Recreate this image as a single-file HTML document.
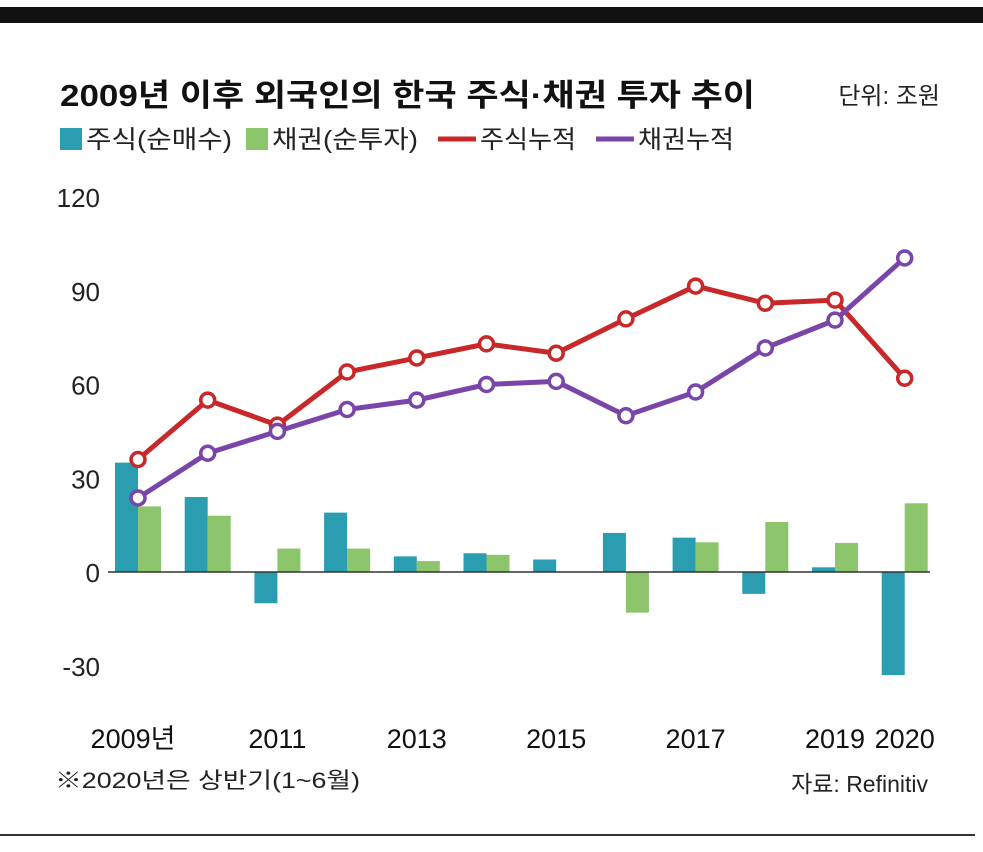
<!DOCTYPE html>
<html><head><meta charset="utf-8"><style>
body{margin:0;background:#fff;width:983px;height:847px;overflow:hidden;font-family:"Liberation Sans","Noto Sans CJK KR",sans-serif}
svg text{font-family:"Liberation Sans","Noto Sans CJK KR",sans-serif}
</style></head><body>
<svg width="983" height="847">
<rect x="0" y="7" width="983" height="16" fill="#111"/>
<line x1="0" y1="835" x2="975" y2="835" stroke="#333" stroke-width="2"/>
<text x="60" y="106" font-size="31" font-weight="bold" fill="#111" textLength="695" lengthAdjust="spacingAndGlyphs">2009년 이후 외국인의 한국 주식·채권 투자 추이</text>
<text x="940" y="104" font-size="24" text-anchor="end" fill="#222">단위: 조원</text>
<g>
<rect x="60" y="128" width="22" height="22" fill="#2a9db0"/>
<text x="86" y="148" font-size="25" fill="#222" textLength="146" lengthAdjust="spacingAndGlyphs">주식(순매수)</text>
<rect x="246" y="128" width="22" height="22" fill="#8dc56c"/>
<text x="272" y="148" font-size="25" fill="#222" textLength="146" lengthAdjust="spacingAndGlyphs">채권(순투자)</text>
<line x1="438" y1="139" x2="476" y2="139" stroke="#c8282a" stroke-width="5"/>
<text x="480" y="148" font-size="25" fill="#222" textLength="96" lengthAdjust="spacingAndGlyphs">주식누적</text>
<line x1="596" y1="139" x2="634" y2="139" stroke="#7a45a8" stroke-width="5"/>
<text x="638" y="148" font-size="25" fill="#222" textLength="96" lengthAdjust="spacingAndGlyphs">채권누적</text>
</g>
<g id="plot"></g>
<text x="55" y="788" font-size="22" fill="#222" textLength="305" lengthAdjust="spacingAndGlyphs">※2020년은 상반기(1~6월)</text>
<text x="928" y="792" font-size="23" text-anchor="end" fill="#222">자료: Refinitiv</text>
</svg>
<script>
const years=["2009","2010","2011","2012","2013","2014","2015","2016","2017","2018","2019","2020"];
const xLabels=["2009년","","2011","","2013","","2015","","2017","","2019","2020"];
const stockNet=[35,24,-10,19,5,6,4,12.5,11,-7,1.5,-33];
const bondNet=[21,18,7.5,7.5,3.5,5.5,0,-13,9.5,16,9.3,22];
const stockCum=[36,55,47,64,68.5,73,70,81,91.5,86,87,62];
const bondCum=[23.7,38,45,52,55,60,61,50,57.6,71.7,80.6,100.5];
const yTicks=[-30,0,30,60,90,120];
const NS="http://www.w3.org/2000/svg";
const g=document.getElementById('plot');
function y(v){return 572-v*3.125;}
function x(i){return 138+i*69.7;}
function mk(t,a){const e=document.createElementNS(NS,t);for(const k in a)e.setAttribute(k,a[k]);g.appendChild(e);return e;}
yTicks.forEach(v=>{const t=mk('text',{x:100,y:y(v)+10,'font-size':26,'text-anchor':'end',fill:'#222'});t.textContent=v;

});
years.forEach((yr,i)=>{
const a=mk('rect',{x:x(i)-23,y:Math.min(y(0),y(stockNet[i])),width:23,height:Math.abs(y(stockNet[i])-y(0)),fill:'#2a9db0'});


const b=mk('rect',{x:x(i),y:Math.min(y(0),y(bondNet[i])),width:23,height:Math.abs(y(bondNet[i])-y(0)),fill:'#8dc56c'});


if(xLabels[i]){const t=mk('text',{x:x(i)+(i==0?-5:0),y:748,'font-size':27,'text-anchor':'middle',fill:'#111'});t.textContent=xLabels[i];

}
});
const z=mk('line',{x1:108,y1:y(0),x2:930,y2:y(0),stroke:'#333','stroke-width':1.5});


[[stockCum,'#c8282a','stock-cum'],[bondCum,'#7a45a8','bond-cum']].forEach(([d,c,n])=>{
const p=mk('polyline',{points:d.map((v,i)=>x(i)+','+y(v)).join(' '),fill:'none',stroke:c,'stroke-width':5,'stroke-linejoin':'round'});


d.forEach((v,i)=>{const m=mk('circle',{cx:x(i),cy:y(v),r:7,fill:'#fff',stroke:c,'stroke-width':3.5});

});
});
</script>
</body></html>
